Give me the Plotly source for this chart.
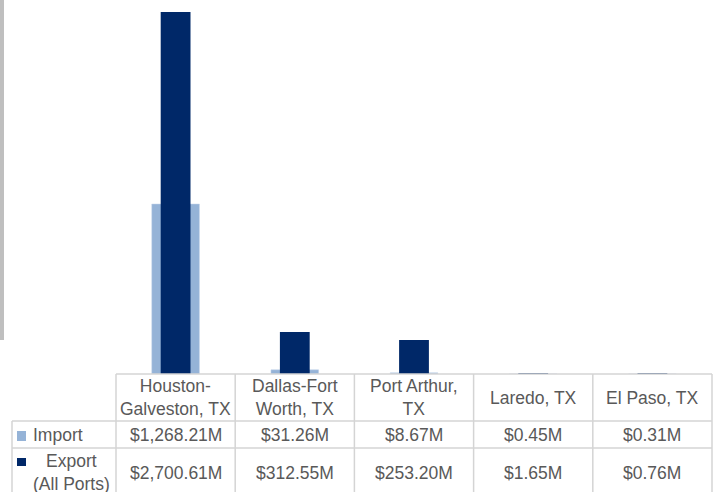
import plotly.graph_objects as go

# data
ports = ["Houston-Galveston, TX", "Dallas-Fort Worth, TX", "Port Arthur, TX", "Laredo, TX", "El Paso, TX"]
port_labels = ["Houston-<br>Galveston, TX", "Dallas-Fort<br>Worth, TX", "Port Arthur,<br>TX", "Laredo, TX", "El Paso, TX"]
import_vals = [1268.21, 31.26, 8.67, 0.45, 0.31]
export_vals = [2700.61, 312.55, 253.20, 1.65, 0.76]

W, H = 718, 492
IMPORT_C = "#95B3D7"
EXPORT_C = "#002868"
TXT = "#595959"
GRID = "#d4d4d4"
FONT = "Liberation Sans, Arial, sans-serif"

def px(x):
    return x / W

def py(y):
    return 1 - y / H

x_left, x_right = 116, 712
base_y, top_y = 374, 12

fig = go.Figure()
fig.add_trace(go.Bar(x=ports, y=import_vals, name="Import", width=0.40,
                     marker=dict(color=IMPORT_C, line=dict(color="#c5d5ea", width=0.5))))
fig.add_trace(go.Bar(x=ports, y=export_vals, name="Export (All Ports)", width=0.25,
                     marker=dict(color=EXPORT_C, line=dict(width=0))))

shapes = []
# left gray strip
shapes.append(dict(type="rect", xref="paper", yref="paper", x0=px(0), x1=px(4), y0=py(340), y1=py(0),
                   fillcolor="#bfbfbf", line=dict(width=0), layer="below"))
ln = dict(color=GRID, width=1.5)
# header top and column dividers
shapes.append(dict(type="line", xref="paper", yref="paper", x0=px(x_left), x1=px(x_right), y0=py(base_y), y1=py(base_y), line=ln))
for i in range(len(ports) + 1):
    xx = x_left + i * (x_right - x_left) / len(ports)
    shapes.append(dict(type="line", xref="paper", yref="paper", x0=px(xx), x1=px(xx), y0=py(base_y), y1=py(H), line=ln))
# row lines
for yy in (421, 448):
    shapes.append(dict(type="line", xref="paper", yref="paper", x0=px(12), x1=px(x_right), y0=py(yy), y1=py(yy), line=ln))
shapes.append(dict(type="line", xref="paper", yref="paper", x0=px(12), x1=px(12), y0=py(421), y1=py(H), line=ln))
# legend keys
shapes.append(dict(type="rect", xref="paper", yref="paper", x0=px(17), x1=px(26), y0=py(441), y1=py(431),
                   fillcolor=IMPORT_C, line=dict(width=0)))
shapes.append(dict(type="rect", xref="paper", yref="paper", x0=px(17), x1=px(26), y0=py(466), y1=py(458),
                   fillcolor=EXPORT_C, line=dict(width=0)))

ann = []
fnt = dict(family=FONT, size=17.5, color=TXT)
for p, lab, iv, ev in zip(ports, port_labels, import_vals, export_vals):
    ann.append(dict(x=p, xref="x", yref="paper", y=py(397.5), text=lab, showarrow=False, font=fnt,
                    xanchor="center", yanchor="middle"))
    ann.append(dict(x=p, xref="x", yref="paper", y=py(435), text="${:,.2f}M".format(iv), showarrow=False,
                    font=fnt, xanchor="center", yanchor="middle"))
    ann.append(dict(x=p, xref="x", yref="paper", y=py(472.5), text="${:,.2f}M".format(ev), showarrow=False,
                    font=fnt, xanchor="center", yanchor="middle"))
ann.append(dict(x=px(31), xref="paper", yref="paper", y=py(435), text="Import", showarrow=False, font=fnt,
                xanchor="left", yanchor="middle"))
ann.append(dict(x=px(71), xref="paper", yref="paper", y=py(472), text="Export<br>(All Ports)", showarrow=False,
                font=fnt, xanchor="center", yanchor="middle", align="center"))

fig.update_layout(
    width=W, height=H,
    margin=dict(l=0, r=0, t=0, b=0),
    paper_bgcolor="white", plot_bgcolor="white",
    barmode="overlay",
    showlegend=False,
    font=dict(family=FONT, color=TXT),
    shapes=shapes,
    annotations=ann,
    xaxis=dict(domain=[px(x_left), px(x_right)], range=[-0.5, 4.5], showticklabels=False,
               showgrid=False, zeroline=False, showline=False, ticks=""),
    yaxis=dict(domain=[py(base_y), py(top_y)], range=[0, max(export_vals)], visible=False),
)

# page body has a default 8px margin; drop it so the figure sits at the corner
fig.write_html("out.html", config={"displayModeBar": False},
               post_script="document.body.style.margin = '0';")
